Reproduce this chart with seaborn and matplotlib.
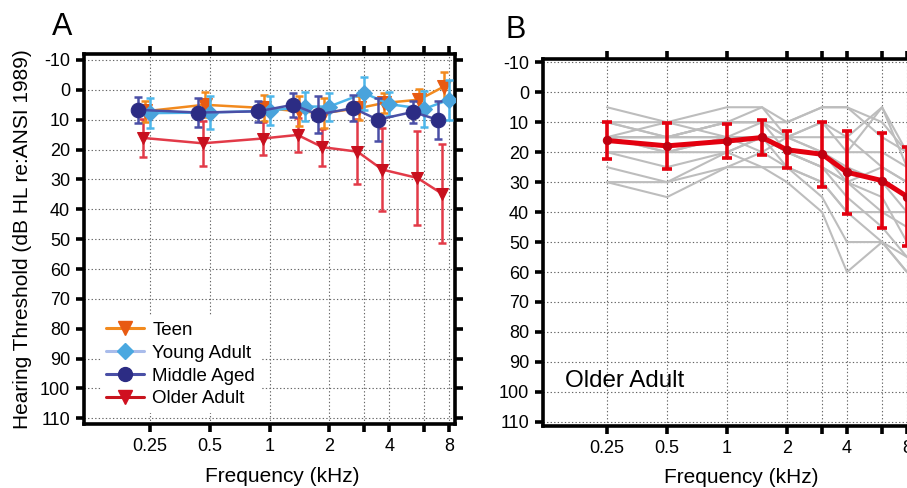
import numpy as np
import pandas as pd
import matplotlib
matplotlib.use("Agg")
import matplotlib.pyplot as plt
from matplotlib.lines import Line2D
import seaborn as sns

# ---------------- data ----------------
freqs = [0.25, 0.5, 1, 1.5, 2, 3, 4, 6, 8]
tick_freqs = [0.25, 0.5, 1, 2, 3, 4, 6, 8]
tick_freq_labels = ["0.25", "0.5", "1", "2", "", "4", "", "8"]
db_ticks = [-10, 0, 10, 20, 30, 40, 50, 60, 70, 80, 90, 100, 110]
db_tick_labels = ["-10", "0", "10", "20", "30", "40", "50", "60", "70", "80", "90", "100", "110"]

groups = ["Teen", "Young Adult", "Middle Aged", "Older Adult"]
teen_mean = [7.2, 5.0, 6.1, 7.2, 7.8, 6.1, 4.4, 3.3, -1.1]
teen_sd = [3.5, 4.2, 4.4, 5.0, 5.0, 4.0, 3.5, 3.5, 5.0]
young_mean = [7.8, 7.6, 7.0, 5.6, 5.6, 1.1, 4.8, 6.4, 3.3]
young_sd = [5.0, 5.5, 4.8, 5.0, 4.7, 5.5, 4.0, 6.0, 6.7]
middle_mean = [6.7, 7.6, 7.2, 5.0, 8.3, 6.1, 10.0, 7.4, 10.0]
middle_sd = [4.4, 4.8, 3.6, 4.0, 6.2, 4.3, 7.2, 3.6, 6.4]
older_mean = [16.1, 17.9, 16.3, 15.1, 19.2, 20.7, 26.7, 29.5, 34.8]
older_sd = [6.3, 7.6, 5.6, 5.8, 6.2, 10.9, 13.9, 15.8, 16.5]

# individual older-adult audiograms (panel B)
older_individuals = [
    [5, 10, 5, 5, 10, 5, 5, 15, 20],
    [10, 10, 10, 10, 15, 10, 20, 5, 25],
    [15, 15, 10, 10, 15, 15, 15, 25, 30],
    [15, 20, 15, 15, 20, 20, 25, 30, 40],
    [20, 20, 20, 15, 20, 25, 30, 40, 40],
    [25, 30, 25, 20, 25, 30, 40, 50, 55],
    [30, 35, 25, 25, 30, 40, 60, 50, 60],
    [30, 30, 20, 25, 25, 35, 50, 50, 60],
    [10, 15, 15, 10, 10, 5, 5, 10, 20],
    [15, 10, 15, 20, 15, 20, 30, 25, 30],
    [20, 25, 20, 15, 20, 25, 35, 45, 55],
    [15, 20, 15, 15, 15, 20, 20, 20, 25],
    [15, 15, 10, 10, 20, 25, 30, 35, 50],
    [10, 15, 15, 15, 25, 30, 40, 40, 45],
    [15, 15, 10, 5, 15, 10, 15, 5, 20],
]

# ---------------- style ----------------
sns.set_style("white")
plt.rcParams["font.family"] = ["Liberation Sans", "DejaVu Sans"]
plt.rcParams["axes.unicode_minus"] = False
for k in ["text.color", "axes.labelcolor", "xtick.color", "ytick.color"]:
    plt.rcParams[k] = "black"

W, H = 907, 488
fig = plt.figure(figsize=(W / 100, H / 100), dpi=100)


def px_axes(left, right, top, bottom):
    return fig.add_axes([left / W, 1 - bottom / H, (right - left) / W, (bottom - top) / H])


axA = px_axes(84, 455, 54, 424)
axB = px_axes(543, 914, 59, 426)

oct_px = 60.0
xlimA = (0.25 * 2 ** (-66 / oct_px), 8 * 2 ** (6 / oct_px))
xlimB = (0.25 * 2 ** (-64 / oct_px), 0.25 * 2 ** ((914 - 607) / oct_px))


def style_axis(ax, xlim, ylim, right_ticks):
    ax.set_xscale("log", base=2)
    ax.set_xlim(*xlim)
    ax.set_ylim(*ylim)
    ax.set_xticks(tick_freqs)
    ax.set_xticklabels(tick_freq_labels)
    ax.xaxis.set_minor_locator(matplotlib.ticker.NullLocator())
    ax.set_yticks(db_ticks)
    ax.set_yticklabels(db_tick_labels)
    ax.grid(True, which="major", color="#666666", linestyle=(0, (1.2, 2.0)), linewidth=0.8)
    for s in ax.spines.values():
        s.set_linewidth(2.6)
        s.set_color("black")
        s.set_visible(True)
    ax.tick_params(axis="both", which="major", direction="out", length=6, width=2.6,
                   labelsize=13, color="black", labelcolor="black", pad=4,
                   top=True, bottom=True, left=True, right=right_ticks,
                   labeltop=False, labelright=False)
    ax.set_xlabel("Frequency (kHz)", fontsize=15, color="black")
    ax.xaxis.set_label_coords(0.534, -0.115)
    ax.set_axisbelow(True)


style_axis(axA, xlimA, (111.9, -12.0), True)
style_axis(axB, xlimB, (111.4, -11.1), True)

# hide the 80 dB gridline in panel A (as in reference)
for val, gl in zip(db_ticks, axA.yaxis.get_gridlines()):
    if val == 80:
        gl.set_visible(False)

axA.set_ylabel("Hearing Threshold (dB HL re:ANSI 1989)", fontsize=15, labelpad=6, color="black")

# ---------------- panel A ----------------
series = [
    # name, mean, sd, offset(oct), line col, marker col, marker, ms, z
    ("Older Adult", older_mean, older_sd, -0.115, "#E23A48", "#C8101E", "v", 9, 2),
    ("Teen", teen_mean, teen_sd, -0.085, "#F28A1E", "#E85A12", "v", 10, 3),
    ("Young Adult", young_mean, young_sd, 0.0, "#4DB6EA", "#4AA3DC", "D", 8.5, 4),
    ("Middle Aged", middle_mean, middle_sd, -0.19, "#4A4FA6", "#2C2C84", "o", 10.5, 5),
]
for name, m, sd, off, lc, mc, mk, ms, z in series:
    xs = [f * 2 ** off for f in freqs]
    df = pd.DataFrame({"x": xs, "y": m})
    axA.errorbar(xs, m, yerr=sd, fmt="none", ecolor=lc, elinewidth=1.8,
                 capsize=3.2, capthick=1.8, zorder=z)
    sns.lineplot(data=df, x="x", y="y", ax=axA, color=lc, linewidth=1.8,
                 marker=mk, markersize=ms, markerfacecolor=mc, markeredgecolor=mc,
                 zorder=z + 0.5, legend=False, estimator=None, sort=False)

legend_style = {
    "Teen": ("#F28A1E", "#E85A12", "v", 10),
    "Young Adult": ("#A9BCEB", "#4AA8E0", "D", 8.5),
    "Middle Aged": ("#4A4FA6", "#2C2C84", "o", 10),
    "Older Adult": ("#C8141E", "#D01020", "v", 10),
}
handles = [Line2D([], [], color=legend_style[g][0], lw=2.2, marker=legend_style[g][2],
                  markersize=legend_style[g][3], markerfacecolor=legend_style[g][1],
                  markeredgecolor=legend_style[g][1]) for g in groups]
leg = axA.legend(handles, groups, loc="lower left", bbox_to_anchor=(0.045, 0.03),
                 fontsize=13.5, frameon=True, framealpha=1, facecolor="white",
                 edgecolor="none", handlelength=2.0, handletextpad=0.45,
                 labelspacing=0.3, borderpad=0.3, borderaxespad=0.0)
for t in leg.get_texts():
    t.set_color("black")
leg.set_zorder(10)

# ---------------- panel B ----------------
rows = []
for i, aud in enumerate(older_individuals):
    for f, v in zip(freqs, aud):
        rows.append({"subject": i, "freq": f, "thr": v})
ind_df = pd.DataFrame(rows)
sns.lineplot(data=ind_df, x="freq", y="thr", units="subject", estimator=None,
             color="#BDBDBD", linewidth=1.5, ax=axB, legend=False, zorder=2)

axB.errorbar(freqs, older_mean, yerr=older_sd, fmt="none", ecolor="#E3000F",
             elinewidth=2.6, capsize=3.5, capthick=2.6, zorder=4)
sns.lineplot(x=freqs, y=older_mean, ax=axB, color="#E3000F", linewidth=3.6,
             marker="o", markersize=6, markerfacecolor="#C00010",
             markeredgecolor="#C00010", zorder=5, legend=False, estimator=None)
axB.set_ylabel("")
axB.text(565 / W, 1 - 381 / H, "Older Adult", transform=fig.transFigure,
         fontsize=17.4, va="center", ha="left", color="black")

# panel letters
fig.text(52 / W, 1 - 35 / H, "A", fontsize=22, ha="left", va="baseline", color="black")
fig.text(505 / W, 1 - 38 / H, "B", fontsize=22, ha="left", va="baseline", color="black")

fig.savefig("out.png", dpi=100)
